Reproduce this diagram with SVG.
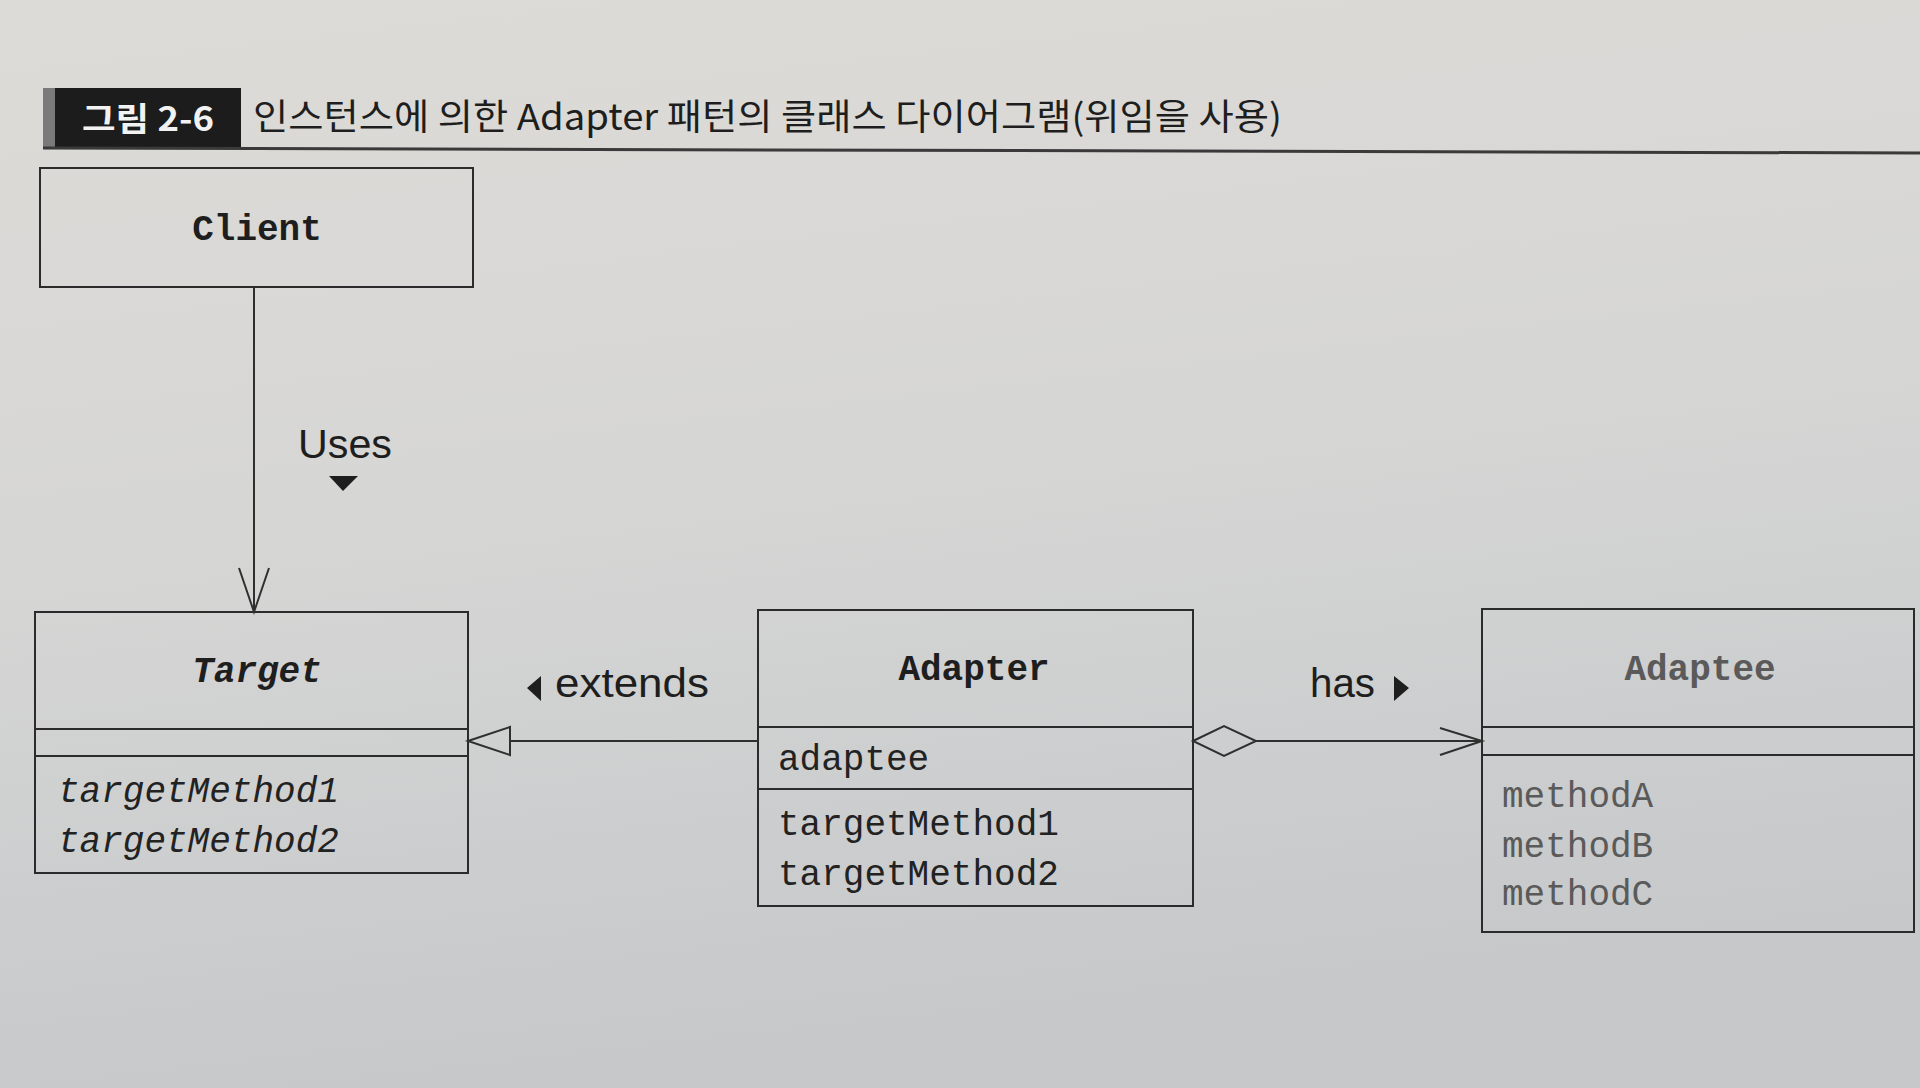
<svg xmlns="http://www.w3.org/2000/svg" width="1920" height="1088" viewBox="0 0 1920 1088">
<defs>
<linearGradient id="bg" x1="0" y1="0" x2="0.2" y2="1">
<stop offset="0" stop-color="#dddbd7"/>
<stop offset="0.5" stop-color="#d6d6d5"/>
<stop offset="1" stop-color="#c6c8ca"/>
</linearGradient>
<style>
.box{fill:none;stroke:#2b2b2b;stroke-width:2}
.ln{fill:none;stroke:#2f2f2f;stroke-width:2}
.name{font-family:"Liberation Mono","DejaVu Sans Mono",monospace;font-size:36px;font-weight:bold;fill:#1e1e1e;text-anchor:middle}
.mem{font-family:"Liberation Mono","DejaVu Sans Mono",monospace;font-size:36px;fill:#222}
.lbl{font-family:"Liberation Sans","Noto Sans",sans-serif;font-size:41px;fill:#1e1e1e}
.gray{fill:#5a5a5a}
.tri{fill:#1e1e1e;stroke:none}
</style>
</defs>
<rect x="0" y="0" width="1920" height="1088" fill="url(#bg)"/>
<g id="title">
<rect x="43" y="88" width="12" height="60" fill="#7a7a7a"/>
<rect x="55" y="88" width="186" height="60" fill="#1c1c1c"/>
<text x="82" y="131" font-family="'Noto Sans CJK KR',sans-serif" font-size="33" font-weight="bold" fill="#f2f2f2" textLength="132" lengthAdjust="spacingAndGlyphs">그림 2-6</text>
<text x="253" y="130" font-family="'Noto Sans CJK KR',sans-serif" font-size="36" fill="#1e1e1e" textLength="1029" lengthAdjust="spacingAndGlyphs">인스턴스에 의한 Adapter 패턴의 클래스 다이어그램(위임을 사용)</text>
<line x1="43" y1="148" x2="1920" y2="153" stroke="#3a3a3a" stroke-width="3"/>
</g>
<g id="Client">
<rect class="box" x="40" y="168" width="433" height="119"/>
<text class="name" x="257" y="240">Client</text>
</g>
<g id="Target">
<rect class="box" x="35" y="612" width="433" height="261"/>
<line class="box" x1="35" y1="729" x2="468" y2="729"/>
<line class="box" x1="35" y1="756" x2="468" y2="756"/>
<text class="name" x="257" y="682" font-style="italic">Target</text>
<text class="mem" x="58" y="802" font-style="italic">targetMethod1</text>
<text class="mem" x="58" y="852" font-style="italic">targetMethod2</text>
</g>
<g id="Adapter">
<rect class="box" x="758" y="610" width="435" height="296"/>
<line class="box" x1="758" y1="727" x2="1193" y2="727"/>
<line class="box" x1="758" y1="789" x2="1193" y2="789"/>
<text class="name" x="974" y="680">Adapter</text>
<text class="mem" x="778" y="770">adaptee</text>
<text class="mem" x="778" y="835">targetMethod1</text>
<text class="mem" x="778" y="885">targetMethod2</text>
</g>
<g id="Adaptee">
<rect class="box" x="1482" y="609" width="432" height="323"/>
<line class="box" x1="1482" y1="727" x2="1914" y2="727"/>
<line class="box" x1="1482" y1="755" x2="1914" y2="755"/>
<text class="name gray" x="1700" y="680">Adaptee</text>
<text class="mem gray" x="1502" y="807">methodA</text>
<text class="mem gray" x="1502" y="857">methodB</text>
<text class="mem gray" x="1502" y="905">methodC</text>
</g>
<g id="connectors">
<line class="ln" x1="254" y1="287" x2="254" y2="612"/>
<polyline class="ln" points="239,568 254,612 269,568"/>
<text class="lbl" x="298" y="458" textLength="94" lengthAdjust="spacingAndGlyphs">Uses</text>
<polygon class="tri" points="329,476 358,476 343,491"/>
<line class="ln" x1="510" y1="741" x2="758" y2="741"/>
<polygon class="ln" points="468,741 510,727 510,755"/>
<polygon class="tri" points="541,676 541,701 527,688"/>
<text class="lbl" x="555" y="697" textLength="154" lengthAdjust="spacingAndGlyphs">extends</text>
<polygon class="ln" points="1193,741 1224,726 1256,741 1224,756"/>
<line class="ln" x1="1256" y1="741" x2="1482" y2="741"/>
<polyline class="ln" points="1440,728 1482,741 1440,755"/>
<text class="lbl" x="1310" y="697" textLength="65" lengthAdjust="spacingAndGlyphs">has</text>
<polygon class="tri" points="1394,676 1394,701 1409,688"/>
</g>
</svg>
